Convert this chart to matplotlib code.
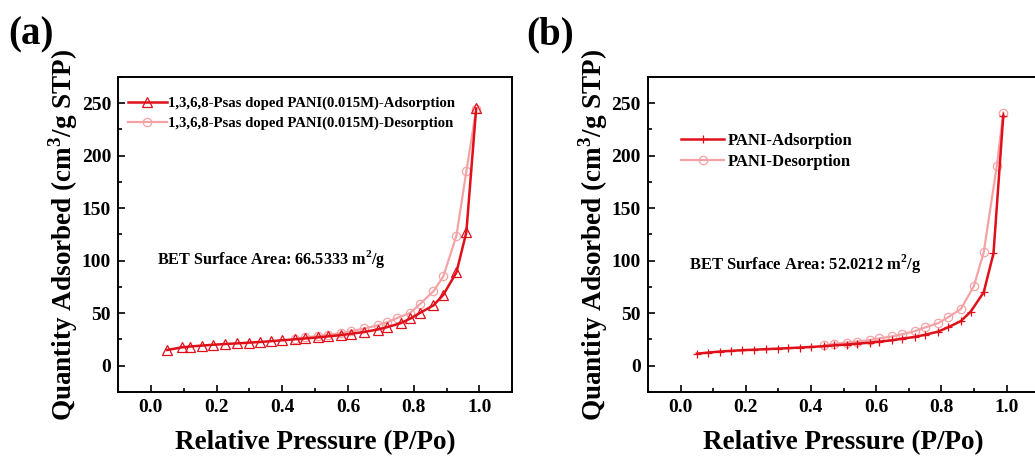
import matplotlib
matplotlib.use('Agg')
import matplotlib.pyplot as plt
from matplotlib.ticker import MultipleLocator

plt.rcParams['font.family'] = ['Liberation Serif', 'DejaVu Serif']
plt.rcParams['font.weight'] = 'bold'
plt.rcParams['mathtext.fontset'] = 'custom'
plt.rcParams['mathtext.rm'] = 'Liberation Serif:bold'
plt.rcParams['mathtext.bf'] = 'Liberation Serif:bold'

ADS_COLOR = '#E0101A'
DES_COLOR = '#F4A3A5'

# ---- panel (a): 1,3,6,8-Psas doped PANI (0.015M) ----
a_ads_x = [0.05, 0.094, 0.119, 0.155, 0.19, 0.226, 0.262, 0.298, 0.331, 0.366, 0.40,
           0.44, 0.47, 0.51, 0.54, 0.58, 0.61, 0.65, 0.69, 0.72, 0.76, 0.79, 0.82,
           0.86, 0.89, 0.93, 0.96, 0.99]
a_ads_y = [15.0, 17.5, 18.3, 19.2, 20.0, 20.7, 21.3, 22.0, 22.6, 23.4, 24.3,
           25.2, 26.0, 27.0, 28.0, 29.2, 30.5, 32.2, 34.5, 36.8, 40.5, 45.0, 50.5,
           57.5, 67.5, 89.0, 127.0, 245.0]
a_des_x = [0.99, 0.96, 0.93, 0.89, 0.86, 0.82, 0.79, 0.75, 0.72, 0.69, 0.65, 0.61,
           0.58, 0.54, 0.51, 0.47, 0.44]
a_des_y = [244.0, 185.0, 124.0, 85.0, 71.0, 59.0, 50.5, 45.5, 41.5, 38.5, 35.5, 33.0,
           31.0, 29.5, 28.2, 27.0, 25.8]

# ---- panel (b): PANI ----
b_ads_x = [0.05, 0.083, 0.12, 0.155, 0.19, 0.226, 0.262, 0.298, 0.331, 0.366, 0.40,
           0.44, 0.47, 0.51, 0.54, 0.58, 0.61, 0.65, 0.68, 0.72, 0.75, 0.79, 0.82,
           0.86, 0.89, 0.93, 0.96, 0.99]
b_ads_y = [11.5, 12.5, 13.5, 14.2, 14.8, 15.3, 15.8, 16.3, 16.8, 17.3, 17.9,
           18.6, 19.4, 20.2, 21.0, 22.0, 23.0, 24.3, 25.8, 27.5, 29.5, 32.5, 36.5,
           42.5, 51.5, 70.0, 107.0, 238.0]
b_des_x = [0.99, 0.97, 0.93, 0.90, 0.86, 0.82, 0.79, 0.75, 0.72, 0.68, 0.65, 0.61,
           0.58, 0.54, 0.51, 0.47, 0.44]
b_des_y = [241.0, 190.0, 108.0, 76.0, 54.0, 46.0, 40.5, 36.5, 33.0, 30.0, 28.0, 26.0,
           24.5, 23.0, 22.0, 20.8, 19.5]


def style_axes(ax):
    ax.set_xlim(-0.1, 1.1)
    ax.set_ylim(-25, 275)
    ax.xaxis.set_major_locator(MultipleLocator(0.2))
    ax.xaxis.set_minor_locator(MultipleLocator(0.1))
    ax.yaxis.set_major_locator(MultipleLocator(50))
    ax.yaxis.set_minor_locator(MultipleLocator(25))
    ax.tick_params(which='both', direction='in', top=False, right=False, width=1.2)
    ax.tick_params(which='major', length=5, labelsize=14, pad=5)
    ax.tick_params(which='minor', length=3)
    for s in ax.spines.values():
        s.set_linewidth(1.4)
    ax.set_xlabel('Relative Pressure (P/Po)', fontsize=19.5, fontweight='bold', labelpad=10)
    ax.set_ylabel('Quantity Adsorbed (cm$^3$/g STP)', fontsize=19.5, fontweight='bold', labelpad=1)


fig = plt.figure(figsize=(10.35, 4.62), dpi=100)
ax1 = fig.add_axes([0.114, 0.1515, 0.381, 0.682])
ax2 = fig.add_axes([0.626, 0.1515, 0.378, 0.682])

# (a)
ax1.plot(a_ads_x, a_ads_y, color=ADS_COLOR, lw=1.8, marker='^', ms=6.5, mfc='none',
         mew=0.9, label='1,3,6,8-Psas doped PANI(0.015M)-Adsorption', zorder=3)
ax1.plot(a_des_x, a_des_y, color=DES_COLOR, lw=1.6, marker='o', ms=6, mfc='none',
         mew=0.9, label='1,3,6,8-Psas doped PANI(0.015M)-Desorption', zorder=2)
style_axes(ax1)
ax1.legend(loc='upper left', bbox_to_anchor=(0.0, 0.97), frameon=False, fontsize=10.6,
           handlelength=2.6, handletextpad=0.1, labelspacing=0.45, borderaxespad=0.3)
ax1.text(0.02, 102, 'BET Surface Area: 66.5333 m$^2$/g', fontsize=11.7, fontweight='bold',
         va='center', ha='left')
fig.text(0.008, 0.925, '(a)', fontsize=28, fontweight='bold', va='center', ha='left')

# (b)
ax2.plot(b_ads_x, b_ads_y, color=ADS_COLOR, lw=1.8, marker='+', ms=6, mew=0.9,
         label='PANI-Adsorption', zorder=3)
ax2.plot(b_des_x, b_des_y, color=DES_COLOR, lw=1.6, marker='o', ms=6, mfc='none',
         mew=0.9, label='PANI-Desorption', zorder=2)
style_axes(ax2)
ax2.legend(loc='upper left', bbox_to_anchor=(0.055, 0.86), frameon=False, fontsize=12,
           handlelength=2.6, handletextpad=0.2, labelspacing=0.3, borderaxespad=0.3)
ax2.text(0.025, 96.5, 'BET Surface Area: 52.0212 m$^2$/g', fontsize=11.9, fontweight='bold',
         va='center', ha='left')
fig.text(0.508, 0.925, '(b)', fontsize=28, fontweight='bold', va='center', ha='left')

fig.savefig('out.png', dpi=100, facecolor='white')
